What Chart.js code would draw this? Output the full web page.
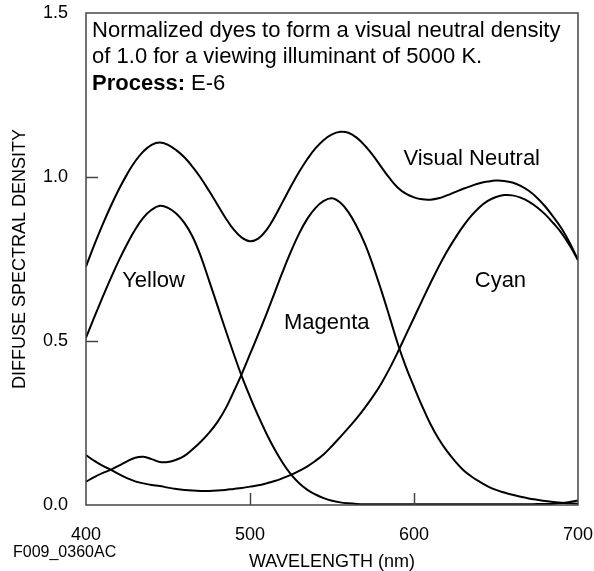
<!DOCTYPE html>
<html>
<head>
<meta charset="utf-8">
<script src="https://cdn.jsdelivr.net/npm/chart.js@4/dist/chart.umd.min.js"></script>
<style>
html,body{margin:0;padding:0;background:#fff;}
canvas{display:block;}
</style>
</head>
<body>
<canvas id="c" width="594" height="571"></canvas>
<script>
// ---- DATA ----
const wavelengths = [400,405,410,415,420,425,430,435,440,445,450,455,460,465,470,475,480,485,490,495,500,505,510,515,520,525,530,535,540,545,550,555,560,565,570,575,580,585,590,595,600,605,610,615,620,625,630,635,640,645,650,655,660,665,670,675,680,685,690,695,700];
const yellow = [0.51,0.572,0.632,0.690,0.745,0.795,0.840,0.876,0.900,0.912,0.906,0.889,0.860,0.818,0.758,0.685,0.610,0.535,0.462,0.392,0.330,0.272,0.218,0.170,0.128,0.093,0.066,0.046,0.032,0.021,0.013,0.008,0.005,0.003,0.002,0.002,0.002,0.002,0.002,0.002,0.002,0.002,0.002,0.002,0.002,0.002,0.002,0.002,0.002,0.002,0.002,0.002,0.002,0.002,0.002,0.003,0.003,0.004,0.006,0.009,0.014];
const magenta = [0.071,0.085,0.097,0.107,0.120,0.133,0.144,0.147,0.140,0.131,0.131,0.138,0.150,0.170,0.193,0.220,0.252,0.293,0.345,0.400,0.460,0.520,0.582,0.647,0.712,0.773,0.828,0.873,0.906,0.927,0.935,0.922,0.893,0.850,0.797,0.730,0.655,0.575,0.493,0.422,0.360,0.301,0.247,0.202,0.165,0.134,0.107,0.087,0.071,0.057,0.046,0.038,0.031,0.025,0.020,0.016,0.012,0.009,0.007,0.005,0.004];
const cyan = [0.152,0.135,0.120,0.108,0.094,0.082,0.072,0.066,0.061,0.058,0.053,0.049,0.046,0.044,0.043,0.043,0.044,0.046,0.049,0.052,0.056,0.060,0.066,0.073,0.082,0.092,0.104,0.118,0.135,0.155,0.180,0.207,0.235,0.264,0.296,0.331,0.370,0.415,0.465,0.518,0.571,0.624,0.676,0.726,0.772,0.813,0.850,0.882,0.908,0.927,0.939,0.945,0.944,0.937,0.925,0.908,0.886,0.859,0.829,0.791,0.747];
const visualNeutral = [0.727,0.792,0.853,0.910,0.962,1.008,1.048,1.078,1.098,1.105,1.098,1.082,1.060,1.031,0.997,0.958,0.917,0.876,0.840,0.815,0.804,0.812,0.838,0.878,0.925,0.972,1.016,1.055,1.088,1.113,1.130,1.138,1.135,1.120,1.096,1.066,1.031,0.997,0.968,0.949,0.938,0.932,0.931,0.935,0.944,0.954,0.964,0.973,0.981,0.986,0.989,0.988,0.983,0.973,0.958,0.937,0.910,0.878,0.843,0.799,0.747];
const xTicks = [400, 500, 600, 700];
const yTicks = [0.0, 0.5, 1.0, 1.5];
const seriesNames = ["Yellow", "Magenta", "Cyan", "Visual Neutral"];
const noteLines = ["Normalized dyes to form a visual neutral density", "of 1.0 for a viewing illuminant of 5000 K."];
const noteBold = "Process:";
const noteRest = " E-6";
const figureCode = "F009_0360AC";

const FONT = "'Liberation Sans', Arial, Helvetica, sans-serif";

function toPoints(arr){ return wavelengths.map((w,i)=>({x:w, y:arr[i]})); }

function ds(label, arr){
  return {label, data: toPoints(arr), borderColor:'#000', borderWidth:2, pointRadius:0, tension:0.4, fill:false};
}

// label anchors in data units (wavelength, density) - text placement only
const labelAnchors = [
  {text: seriesNames[0], x: 441.2, y: 0.664},
  {text: seriesNames[1], x: 546.8, y: 0.536},
  {text: seriesNames[2], x: 652.7, y: 0.664},
  {text: seriesNames[3], x: 635.2, y: 1.037}
];

const decor = {
  id: 'decor',
  afterDraw(chart){
    const ctx = chart.ctx, a = chart.chartArea;
    const xs = chart.scales.x, ys = chart.scales.y;
    ctx.save();
    // frame
    ctx.strokeStyle = '#444';
    ctx.lineWidth = 1.5;
    ctx.strokeRect(a.left, a.top, a.right - a.left, a.bottom - a.top);
    // inward tick marks
    ctx.beginPath();
    xTicks.slice(1, -1).forEach(v => {
      const px = Math.round(xs.getPixelForValue(v)) + 0.5;
      ctx.moveTo(px, a.bottom); ctx.lineTo(px, a.bottom - 12);
    });
    yTicks.slice(1, -1).forEach(v => {
      const py = Math.round(ys.getPixelForValue(v)) + 0.5;
      ctx.moveTo(a.left, py); ctx.lineTo(a.left + 12, py);
    });
    ctx.stroke();
    // series labels
    ctx.fillStyle = '#000';
    ctx.font = '22px ' + FONT;
    ctx.textAlign = 'center';
    ctx.textBaseline = 'alphabetic';
    labelAnchors.forEach(l => {
      ctx.fillText(l.text, xs.getPixelForValue(l.x), ys.getPixelForValue(l.y));
    });
    // note
    ctx.textAlign = 'left';
    const nx = xs.getPixelForValue(403.7);
    ctx.fillText(noteLines[0], nx, ys.getPixelForValue(1.426));
    ctx.fillText(noteLines[1], nx, ys.getPixelForValue(1.347));
    ctx.font = 'bold 22px ' + FONT;
    const by = ys.getPixelForValue(1.266);
    ctx.fillText(noteBold, nx, by);
    const bw = ctx.measureText(noteBold).width;
    ctx.font = '22px ' + FONT;
    ctx.fillText(noteRest, nx + bw, by);
    // figure code
    ctx.font = '16px ' + FONT;
    ctx.fillText(figureCode, 13, 557);
    ctx.restore();
  }
};

new Chart(document.getElementById('c'), {
  type: 'line',
  data: { datasets: [ds(seriesNames[0], yellow), ds(seriesNames[1], magenta), ds(seriesNames[2], cyan), ds(seriesNames[3], visualNeutral)] },
  options: {
    responsive: false,
    animation: false,
    devicePixelRatio: 1,
    layout: { padding: { left: 0, right: 16, top: 13, bottom: 0 } },
    plugins: { legend: { display: false }, tooltip: { enabled: false } },
    scales: {
      x: {
        type: 'linear', min: 400, max: 700,
        afterBuildTicks(s){ s.ticks = xTicks.map(v => ({value: v})); },
        afterFit(s){ s.height = 66; s.paddingLeft = 0; s.paddingRight = 0; },
        grid: { display: false, drawTicks: false },
        border: { display: false },
        ticks: { padding: 19, color: '#000', font: { size: 18, family: FONT }, callback: v => String(v), maxRotation: 0 },
        title: { display: true, text: 'WAVELENGTH (nm)', color: '#000', font: { size: 18, family: FONT, lineHeight: 1 }, padding: { top: 0, bottom: 0 } }
      },
      y: {
        type: 'linear', min: 0, max: 1.5,
        afterBuildTicks(s){ s.ticks = yTicks.map(v => ({value: v})); },
        afterFit(s){ s.width = 86; s.paddingTop = 0; s.paddingBottom = 0; },
        grid: { display: false, drawTicks: false },
        border: { display: false },
        ticks: { padding: 18, color: '#000', font: { size: 18, family: FONT }, callback: v => Number(v).toFixed(1) },
        title: { display: true, text: 'DIFFUSE SPECTRAL DENSITY', color: '#000', font: { size: 18, family: FONT }, padding: { top: 9, bottom: 0 } }
      }
    }
  },
  plugins: [decor]
});
</script>
</body>
</html>
